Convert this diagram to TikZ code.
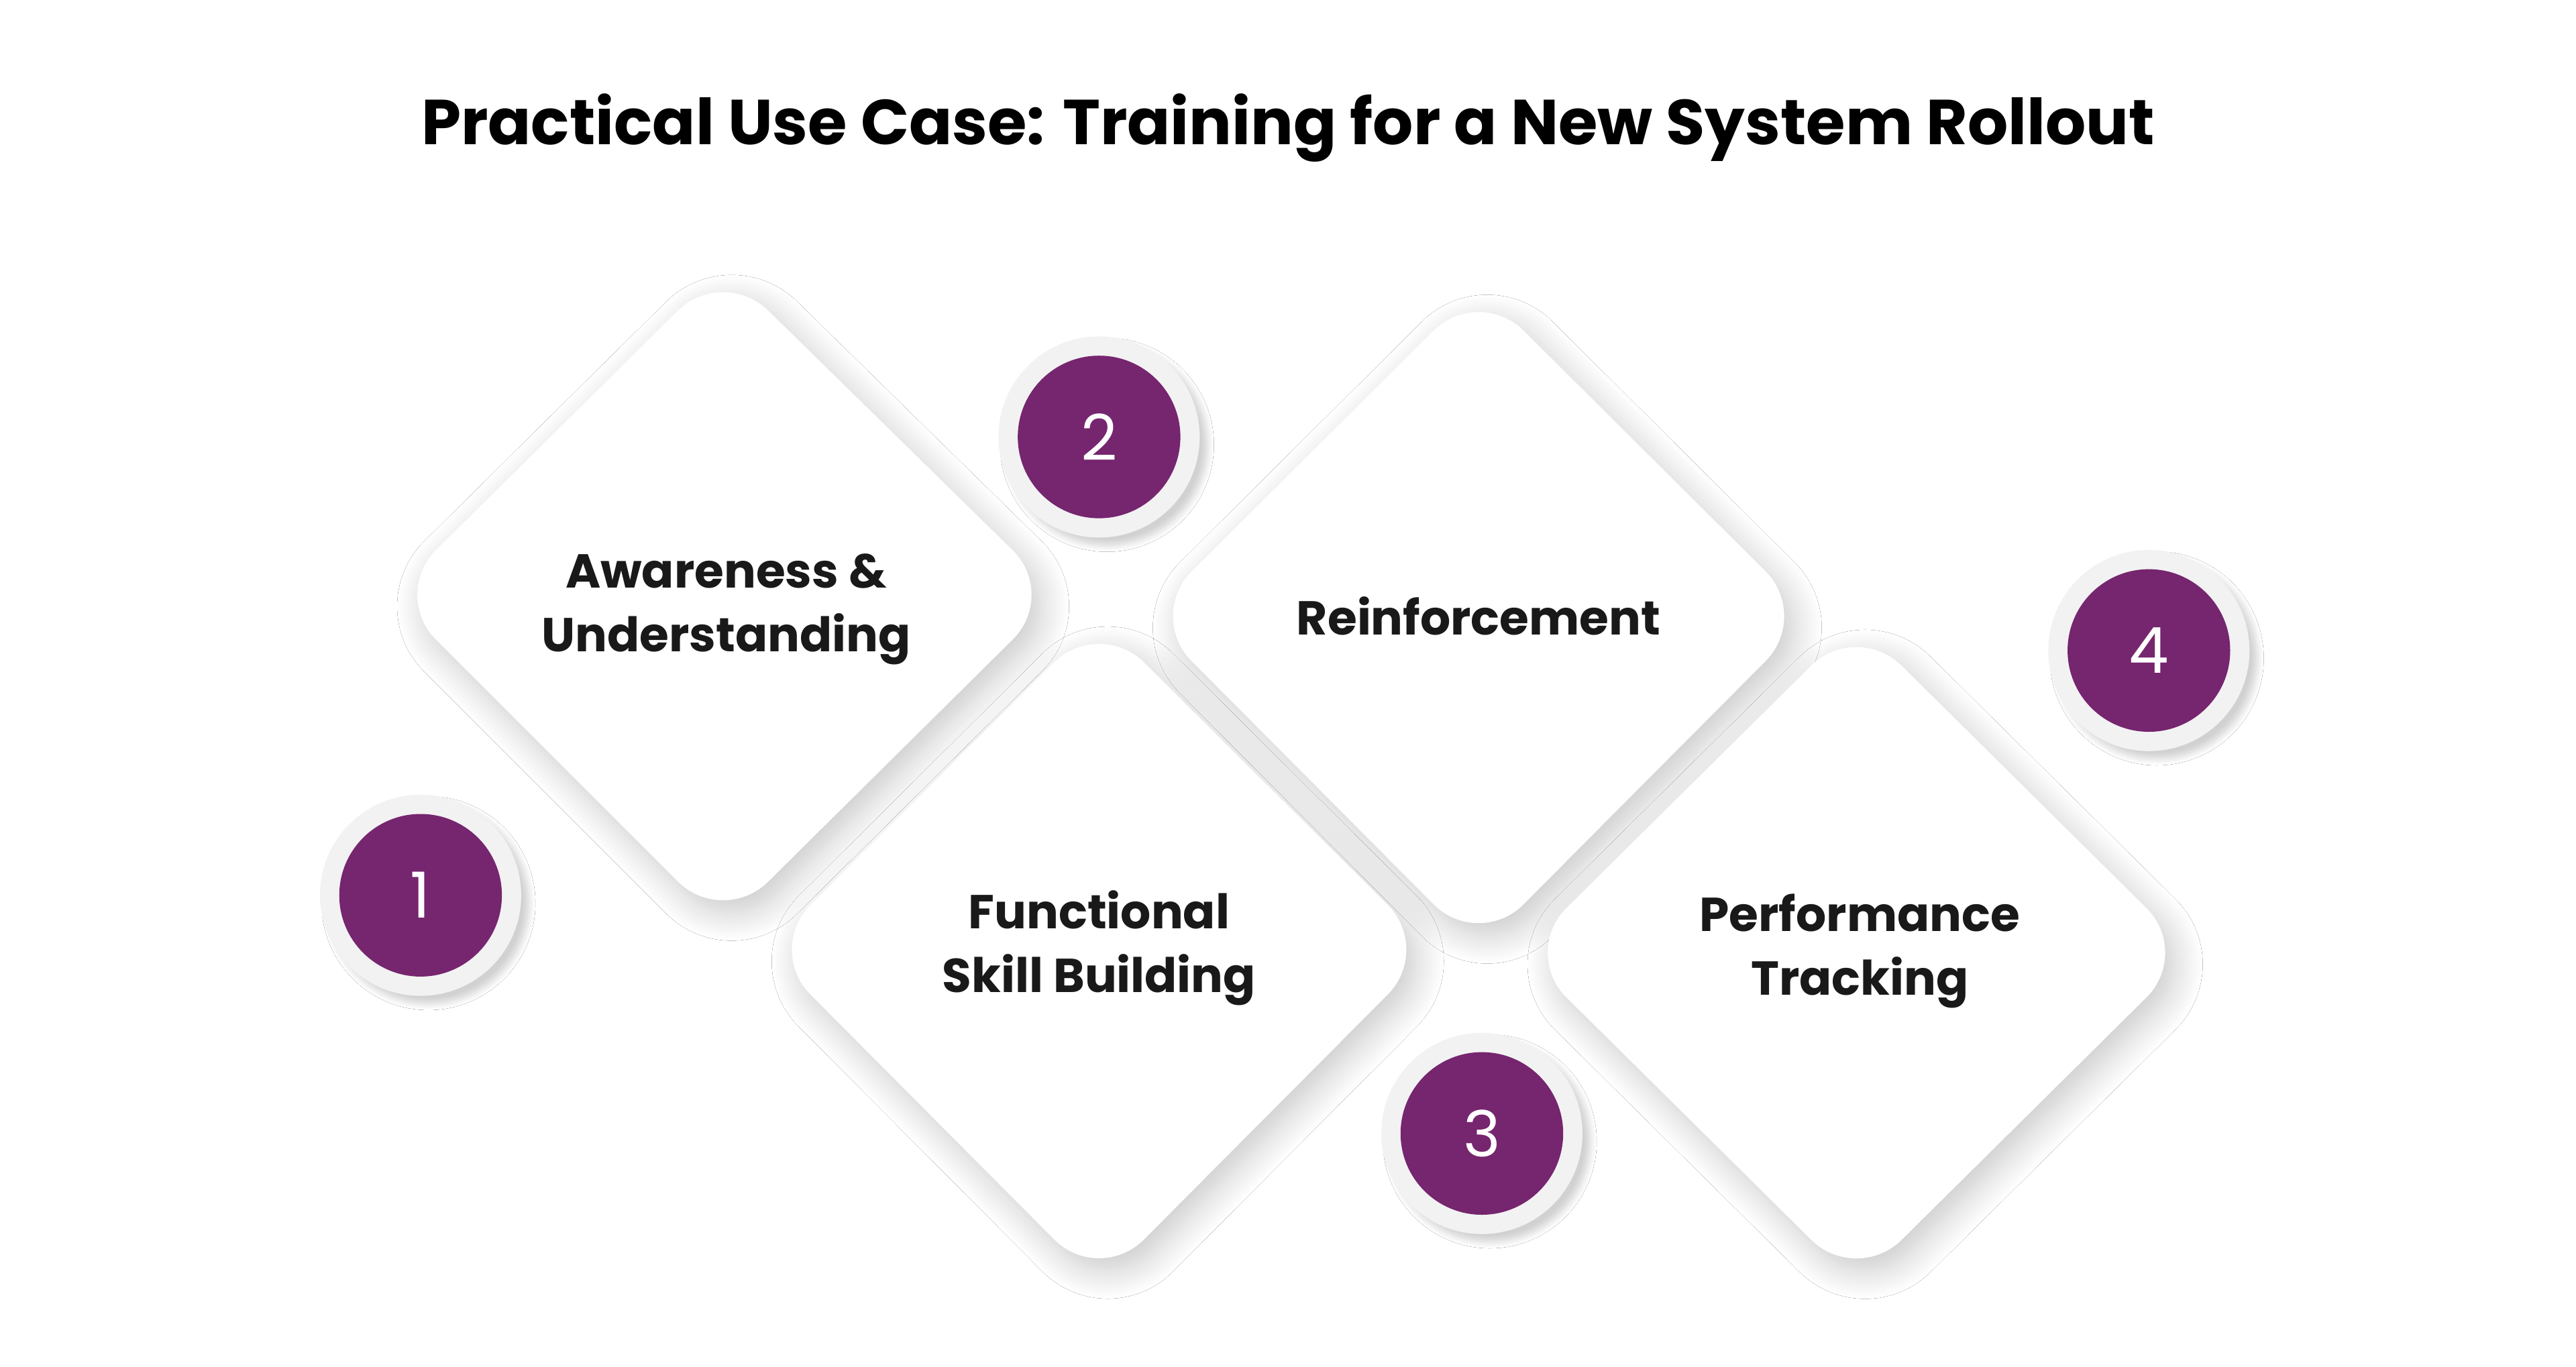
\documentclass[tikz,border=0pt]{standalone}
\usepackage{fontspec}
\setmainfont{Poppins}
\usetikzlibrary{shadows.blur}
\definecolor{plum}{HTML}{76256F}
\tikzset{
 dia/.style={fill=white,draw=none,rounded corners=22pt,blur shadow={shadow blur steps=14,shadow blur radius=10pt,shadow xshift=3pt,shadow yshift=-4pt,shadow opacity=22}},
 halo/.style={circle,fill=gray!10,minimum size=2.45cm,blur shadow={shadow blur steps=8,shadow opacity=18}},
 num/.style={circle,fill=plum,minimum size=1.98cm,text=white,font=\fontsize{22}{26}\selectfont},
 lab/.style={align=center,font=\fontsize{16.5}{22}\selectfont\bfseries,text=black!90}
}
\begin{document}
\begin{tikzpicture}[x=0.02cm,y=-0.02cm]
\useasboundingbox[fill=white] (0,0) rectangle (1568,832);
\node[font=\fontsize{22}{26}\selectfont\bfseries] (title) at (784,78) {Practical Use Case: Training for a New System Rollout};
% halos
\node[halo] (h1) at (256,545) {};
\node[halo] (h2) at (669,266) {};
\node[halo] (h3) at (902,690) {};
\node[halo] (h4) at (1308,396) {};
% diamonds
\path[dia] (238,362) -- (440,162) -- (644,362) -- (440,564) -- cycle;
\path[dia] (466,578) -- (669,376) -- (872,578) -- (669,782) -- cycle;
\path[dia] (698,375) -- (900,174) -- (1102,375) -- (900,578) -- cycle;
\path[dia] (926,580) -- (1130,378) -- (1334,580) -- (1130,782) -- cycle;
% numbers
\node[num] (n1) at (256,545) {1};
\node[num] (n2) at (669,266) {2};
\node[num] (n3) at (902,690) {3};
\node[num] (n4) at (1308,396) {4};
\node[lab] (l1) at (442,371) {Awareness \&\\Understanding};
\node[lab] (l2) at (669,577) {Functional\\Skill Building};
\node[lab] (l3) at (900,375) {Reinforcement};
\node[lab] (l4) at (1132,579) {Performance\\Tracking};
\end{tikzpicture}
\end{document}
